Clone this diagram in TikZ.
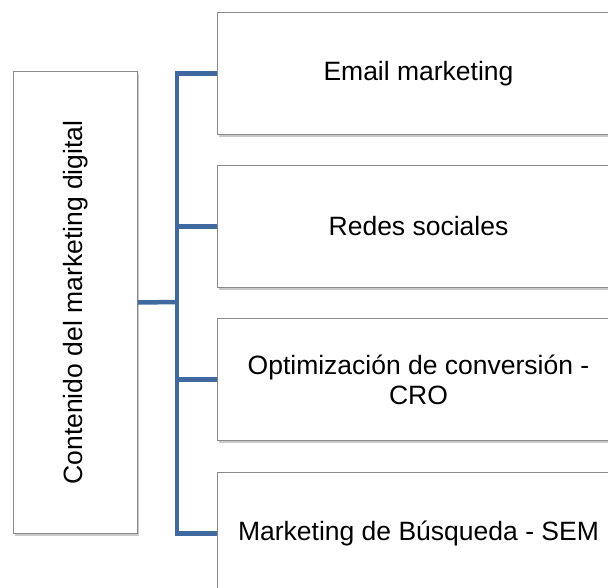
\documentclass[tikz,border=0pt]{standalone}
\usepackage{fontspec}
\setmainfont{Liberation Sans}
\usetikzlibrary{shadows}
\definecolor{busblue}{HTML}{4069A0}
\definecolor{boxedge}{HTML}{8A8A8A}
\tikzset{
  itembox/.style={draw=boxedge, line width=1pt, fill=white, rectangle, inner sep=0pt,
    anchor=north west, minimum width=402pt, minimum height=122pt, align=center,
    font=\fontsize{26.5}{30}\selectfont,
    drop shadow={shadow xshift=1.5pt, shadow yshift=-2.5pt, opacity=0.35, fill=black!60}},
  rootbox/.style={itembox, minimum width=124pt, minimum height=462pt},
  conn/.style={draw=busblue, line width=4.5pt}
}
\begin{document}
\begin{tikzpicture}[x=1pt,y=-1pt]
\useasboundingbox (0,0) rectangle (608,587);
\fill[white] (0,0) rectangle (608,587);
\node[rootbox] (root) at (13,71) {};
\node[rotate=90, font=\fontsize{26.5}{30}\selectfont] (roottext) at (root.center) {Contenido del marketing digital};
\node[itembox] (b1) at (217,12) {Email marketing};
\node[itembox] (b2) at (217,165) {Redes sociales};
\node[itembox] (b3) at (217,318) {Optimización de conversión -\\CRO};
\node[itembox] (b4) at (217,472) {Marketing de Búsqueda - SEM};
\coordinate (bus) at (177,302);
\draw[conn] (b1.west) -| (bus) |- (b4.west);
\draw[conn] (root.east) -- (bus);
\draw[conn] (b2.west) -- (b2.west -| bus);
\draw[conn] (b3.west) -- (b3.west -| bus);
\end{tikzpicture}
\end{document}
